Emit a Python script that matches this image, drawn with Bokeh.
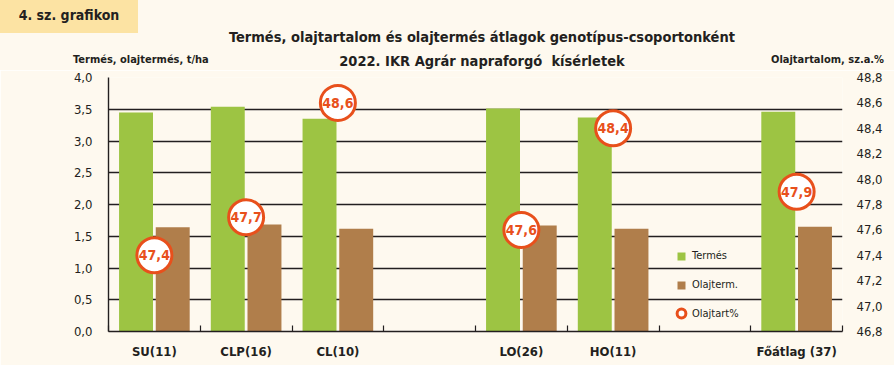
import numpy as np
from bokeh.plotting import figure
from bokeh.layouts import column
from bokeh.models import (Range1d, LinearAxis, FixedTicker, CustomJSTickFormatter,
                          ColumnDataSource, Legend, LegendItem, Div)
from bokeh.transform import dodge
from bokeh.core.properties import value
from bokeh.embed import file_html
from bokeh.resources import INLINE

# ---------------- data ----------------
categories = ["SU(11)", "CLP(16)", "CL(10)", "", "LO(26)", "HO(11)", "", "Főátlag (37)"]
termes = [3.45, 3.54, 3.35, np.nan, 3.51, 3.37, np.nan, 3.46]        # t/ha
olajterm = [1.64, 1.685, 1.62, np.nan, 1.67, 1.62, np.nan, 1.65]     # t/ha
olajtart = [47.4, 47.7, 48.6, np.nan, 47.6, 48.4, np.nan, 47.9]      # sz.a.%
left_ticks = [0.0, 0.5, 1.0, 1.5, 2.0, 2.5, 3.0, 3.5, 4.0]
right_ticks = [46.8, 47.0, 47.2, 47.4, 47.6, 47.8, 48.0, 48.2, 48.4, 48.6, 48.8]
series_names = ["Termés", "Olajterm.", "Olajtart%"]
title_lines = ["Termés, olajtartalom és olajtermés átlagok genotípus-csoportonként",
               "2022. IKR Agrár napraforgó  kísérletek"]
left_title = "Termés, olajtermés, t/ha"
right_title = "Olajtartalom, sz.a.%"
tag_text = "4. sz. grafikon"

# ---------------- style ----------------
FONT = "'DejaVu Sans Condensed', Roboto"
BG = "#FEF9EF"
GREEN = "#9DC443"
BROWN = "#B07E4B"
ORANGE = "#E8501C"
YELLOW = "#FCE3A3"
INK = "#231F20"
W = 894
HEAD_H = 70
MAIN_H = 295

# ---------------- header (titles) ----------------
def span(text, left, top, width, size, align="left", extra=""):
    return (f'<div style="position:absolute;left:{left}px;top:{top}px;width:{width}px;'
            f'font-size:{size}px;line-height:{size}px;text-align:{align};'
            f'white-space:pre;{extra}">{text}</div>')

html = (f'<div style="position:relative;width:{W}px;height:{HEAD_H}px;background:{BG};'
        f'font-family:{FONT}, sans-serif;font-weight:bold;color:{INK};overflow:hidden;">'
        f'<div style="position:absolute;left:0;top:0;width:138px;height:33px;'
        f'background:{YELLOW};font-size:14px;line-height:30px;text-align:center;">{tag_text}</div>'
        + span(title_lines[0], 182, 29.7, 600, 14.5, "center")
        + span(title_lines[1], 182, 53.7, 600, 14.5, "center")
        + span(left_title, 73, 53.7, 200, 11)
        + span(right_title, 684, 53.7, 200, 11, "right")
        + '</div>')
header = Div(text=html, width=W, height=HEAD_H, margin=0)

# ---------------- main chart ----------------
n = len(categories)
slot_x = np.arange(n) + 0.5
keep = [i for i, c in enumerate(categories) if c]
src = ColumnDataSource(dict(
    x=[slot_x[i] for i in keep],
    cat=[categories[i] for i in keep],
    termes=[termes[i] for i in keep],
    olajterm=[olajterm[i] for i in keep],
    olajtart=[olajtart[i] for i in keep],
    lbl=[f"{olajtart[i]:.1f}".replace(".", ",") for i in keep],
))

p = figure(width=W, height=MAIN_H, output_backend="svg", toolbar_location=None,
           x_range=Range1d(0, n), y_range=Range1d(left_ticks[0], left_ticks[-1]),
           min_border_left=108, min_border_right=52, min_border_top=7,
           min_border_bottom=34)
p.background_fill_color = BG
p.border_fill_color = BG
p.outline_line_color = None
p.extra_y_ranges = {"oil": Range1d(right_ticks[0], right_ticks[-1])}

p.xgrid.visible = False
p.ygrid.ticker = FixedTicker(ticks=left_ticks)
p.ygrid.grid_line_color = INK
p.ygrid.grid_line_width = 1.4

r_t = p.vbar(x=dodge("x", -0.2), top="termes", width=0.37, source=src,
             fill_color=GREEN, line_color=None)
r_o = p.vbar(x=dodge("x", 0.2), top="olajterm", width=0.37, source=src,
             fill_color=BROWN, line_color=None)
r_c = p.scatter(x="x", y="olajtart", y_range_name="oil", source=src, size=35,
                fill_color="white", line_color=ORANGE, line_width=3)
p.text(x="x", y="olajtart", y_range_name="oil", source=src, text="lbl",
       text_align="center", text_baseline="middle", text_font=value(FONT),
       text_font_style="bold", text_font_size="14px", text_color=ORANGE)

fmt = CustomJSTickFormatter(code="return tick.toFixed(1).replace('.', ',');")

ya = p.yaxis[0]
ya.ticker = FixedTicker(ticks=left_ticks)
ya.formatter = fmt
ya.major_tick_line_color = None
ya.minor_tick_line_color = None
ya.axis_line_color = INK
ya.axis_line_width = 1.4
ya.major_label_standoff = 10
ya.major_label_text_font = FONT
ya.major_label_text_font_size = "13px"
ya.major_label_text_color = INK

ra = LinearAxis(y_range_name="oil", ticker=FixedTicker(ticks=right_ticks), formatter=fmt)
ra.major_tick_line_color = None
ra.minor_tick_line_color = None
ra.axis_line_color = None
ra.major_label_standoff = 8
ra.major_label_text_font = FONT
ra.major_label_text_font_size = "13px"
ra.major_label_text_color = INK
p.add_layout(ra, "right")

xa = p.xaxis[0]
xa.ticker = FixedTicker(ticks=list(slot_x), minor_ticks=list(np.arange(n + 1)))
xa.formatter = CustomJSTickFormatter(args=dict(labels=categories),
                                     code="return labels[Math.floor(tick)] || '';")
xa.major_tick_line_color = None
xa.minor_tick_in = 6
xa.minor_tick_out = 0
xa.minor_tick_line_color = INK
xa.minor_tick_line_width = 1.2
xa.axis_line_color = INK
xa.axis_line_width = 1.4
xa.major_label_standoff = 6
xa.major_label_text_font = FONT
xa.major_label_text_font_style = "bold"
xa.major_label_text_font_size = "13px"
xa.major_label_text_color = INK

leg1 = Legend(items=[LegendItem(label=series_names[0], renderers=[r_t]),
                     LegendItem(label=series_names[1], renderers=[r_o])],
              location=(568, 40), glyph_width=10, glyph_height=10, label_height=10,
              spacing=16, padding=0, margin=0, label_standoff=6,
              background_fill_alpha=0, border_line_alpha=0,
              label_text_font=FONT, label_text_font_size="11px", label_text_color=INK)
leg2 = Legend(items=[LegendItem(label=series_names[2], renderers=[r_c])],
              location=(562, 7), glyph_width=22, glyph_height=22, label_height=10,
              padding=0, margin=0, label_standoff=0,
              background_fill_alpha=0, border_line_alpha=0,
              label_text_font=FONT, label_text_font_size="11px", label_text_color=INK)
p.add_layout(leg1)
p.add_layout(leg2)

layout = column(header, p, spacing=0)
open("out.html", "w").write(file_html(layout, INLINE))
